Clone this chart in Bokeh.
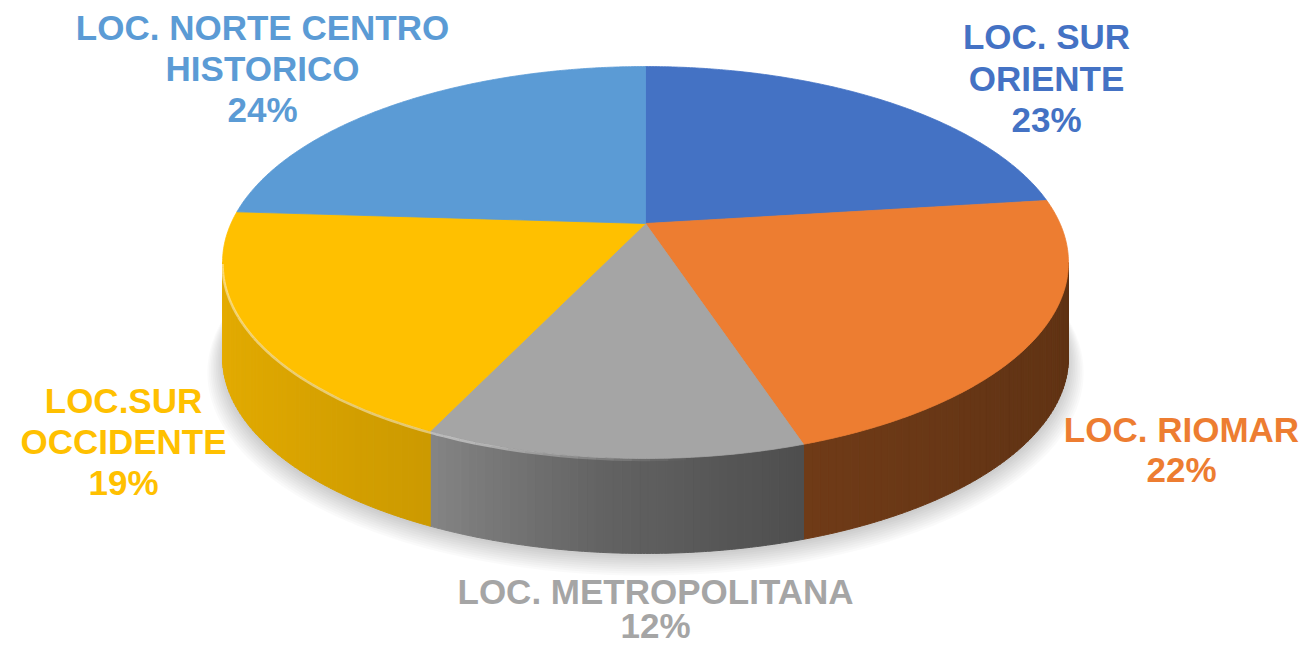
import numpy as np
from bokeh.plotting import figure
from bokeh.models import Range1d
from bokeh.embed import file_html
from bokeh.resources import INLINE
from bokeh.core.properties import value

# ---------------- data ----------------
categories = ["LOC. SUR ORIENTE", "LOC. RIOMAR", "LOC. METROPOLITANA",
              "LOC.SUR OCCIDENTE", "LOC. NORTE CENTRO HISTORICO"]
label_names = [["LOC. SUR", "ORIENTE"], ["LOC. RIOMAR"], ["LOC. METROPOLITANA"],
               ["LOC.SUR", "OCCIDENTE"], ["LOC. NORTE CENTRO", "HISTORICO"]]
percentages = [23, 22, 12, 19, 24]
colors = ["#4472C4", "#ED7D31", "#A5A5A5", "#FFC000", "#5B9BD5"]

# ---------------- layout / style ----------------
W, H = 1304, 645
CX, CY = 645, 223          # pie apex on screen
RX, RY, K = 414.5, 188.2, 0.199   # perspective ellipse parameters
DEPTH = 95
label_pos = [(1046, 36), (1181, 429), (655, 591), (123, 400), (262, 27)]
label_gap = [41.5, 40, 34, 41, 41]
FONT = "Liberation Sans"


def proj(theta_deg, dy=0.0, scale=1.0):
    t = np.radians(theta_deg)
    u, v = np.sin(t), np.cos(t)
    d = 1 + K * v
    return CX + scale * RX * u / d, CY - scale * RY * v / d + dy


def hex2rgb(h):
    h = h.lstrip("#")
    return np.array([int(h[i:i + 2], 16) for i in (0, 2, 4)], dtype=float)


def rgb2hex(c):
    c = np.clip(np.round(c), 0, 255).astype(int)
    return "#%02x%02x%02x" % tuple(c)


def side_factor(theta):
    return np.interp(theta, [101, 130, 162, 185, 205, 230, 259],
                     [0.40, 0.42, 0.47, 0.60, 0.80, 0.86, 0.90])


p = figure(width=W, height=H, x_range=Range1d(0, W), y_range=Range1d(H, 0),
           output_backend="svg", toolbar_location=None,
           x_axis_location=None, y_axis_location=None, min_border=0,
           background_fill_color="white", border_fill_color="white")
p.grid.visible = False
p.outline_line_color = None

# soft shadow under the pie
full = np.linspace(0, 360, 361)
for i in range(10):
    sx, sy = proj(full, dy=DEPTH + 3 + i * 1.2, scale=1.0 + 0.004 * i)
    p.patch(list(sx), list(sy), fill_color="#000000", fill_alpha=0.018, line_color=None)

# slice angles
total = float(sum(percentages))
cum = np.concatenate([[0], np.cumsum(percentages)]) / total * 360.0
t_right = np.degrees(np.arccos(-K))
t_left = 360 - t_right

# side walls
xs, ys, fc = [], [], []
for i in range(len(percentages)):
    a0, a1 = max(cum[i], t_right), min(cum[i + 1], t_left)
    if a1 <= a0:
        continue
    n = max(2, int(np.ceil((a1 - a0) / 1.0)))
    edges = np.linspace(a0, a1, n + 1)
    base = hex2rgb(colors[i])
    for ta, tb in zip(edges[:-1], edges[1:]):
        tt = np.linspace(ta, tb, 4)
        tx, ty = proj(tt)
        bx, by = proj(tt[::-1], dy=DEPTH)
        xs.append(list(tx) + list(bx))
        ys.append(list(ty) + list(by))
        fc.append(rgb2hex(base * side_factor((ta + tb) / 2)))
p.patches(xs, ys, fill_color=fc, line_color=fc, line_width=1)

# top faces
txs, tys = [], []
for i in range(len(percentages)):
    tt = np.linspace(cum[i], cum[i + 1], int((cum[i + 1] - cum[i]) * 2) + 2)
    ax, ay = proj(tt)
    txs.append([CX] + list(ax))
    tys.append([CY] + list(ay))
p.patches(txs, tys, fill_color=colors, line_color=colors, line_width=0.8)

# rim highlight on lit (left) front edge
seg = np.arange(t_right, t_left, 2.0)
hx, hy, ha = [], [], []
for ta in seg:
    tt = np.linspace(ta, min(ta + 2.0, t_left), 3)
    sx, sy = proj(tt, dy=1.5)
    hx.append(list(sx))
    hy.append(list(sy))
    ha.append(float(np.interp(ta + 1, [101, 175, 200, 259], [0.0, 0.0, 0.45, 0.45])))
p.multi_line(hx, hy, line_color="white", line_alpha=ha, line_width=2.5)

# labels
lx, ly, lt, lc = [], [], [], []
for i in range(len(percentages)):
    lines = label_names[i] + [f"{percentages[i]}%"]
    x0, y0 = label_pos[i]
    for j, s in enumerate(lines):
        lx.append(x0)
        ly.append(y0 + j * label_gap[i])
        lt.append(s)
        lc.append(colors[i])
p.text(x=lx, y=ly, text=lt, text_color=lc, text_font=value(FONT),
       text_font_style="bold", text_font_size="35px",
       text_align="center", text_baseline="alphabetic")

open("out.html", "w").write(file_html(p, INLINE))
